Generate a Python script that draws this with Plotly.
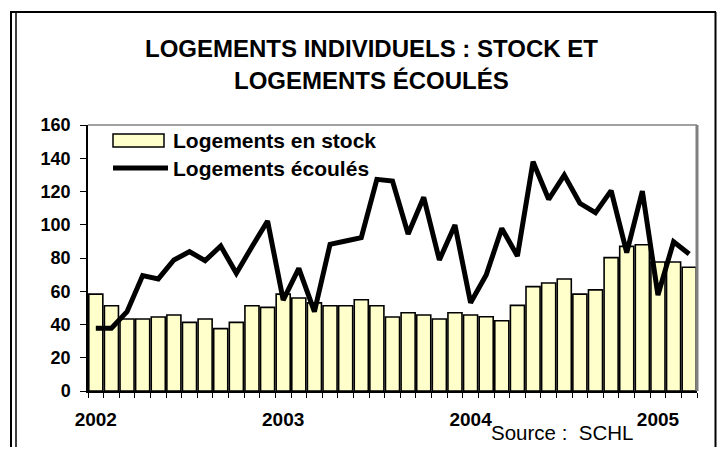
import plotly.graph_objects as go

# ---- data ----
months = [f"{y}-{m:02d}" for y in (2002, 2003, 2004, 2005) for m in range(1, 13)][:39]
stock = [58.3, 51.3, 43.3, 43.3, 44.5, 45.7, 41.3, 43.3, 37.5, 41.3, 51.3, 50.3,
         58.3, 55.9, 53.0, 51.3, 51.3, 54.9, 51.3, 44.5, 47.1, 45.7, 43.3, 47.1,
         45.7, 44.7, 42.3, 51.5, 62.8, 65.0, 67.4, 58.3, 60.8, 80.2, 87.0, 88.0,
         77.6, 77.6, 74.4]
sold = [37.7, 37.7, 47.7, 69.4, 67.4, 78.8, 83.8, 78.4, 87.2, 70.8, 86.8, 102.3,
        54.7, 73.8, 47.7, 88.2, 90.2, 92.2, 127.3, 126.3, 94.4, 116.5, 78.8, 99.8,
        53.1, 69.8, 97.8, 81.2, 137.9, 115.3, 129.9, 112.9, 107.3, 120.5, 83.2, 120.3,
        57.7, 89.8, 82.4]
tick_text = [m[:4] if m.endswith("-01") else "" for m in months]
series_names = ["Logements en stock", "Logements écoulés"]
title_lines = ["LOGEMENTS INDIVIDUELS : STOCK ET", "LOGEMENTS ÉCOULÉS"]
source_text = "Source :\u00a0\u00a0SCHL"

# ---- layout geometry (page pixels; the page body adds an 8px margin all round) ----
OFF = 8
W, H = 725 - 2 * OFF, 455 - 2 * OFF
L, R, T, B = 88, 697, 125, 391          # plot area in page pixels
def px(x):
    return (x - L) / (R - L)
def py(y):
    return (B - y) / (B - T)

FONT = "Arial, Liberation Sans, sans-serif"

fig = go.Figure()
fig.add_trace(go.Bar(x=months, y=stock, name=series_names[0],
                     marker=dict(color="#FFFFCC", line=dict(color="black", width=1.6)),
                     showlegend=False))
fig.add_trace(go.Scatter(x=months, y=sold, name=series_names[1], mode="lines",
                         line=dict(color="black", width=5), showlegend=False))

def pline(x0, y0, x1, y1, color="black", width=1.5):
    return dict(type="line", xref="paper", yref="paper", layer="above",
                x0=px(x0), x1=px(x1), y0=py(y0), y1=py(y1),
                line=dict(color=color, width=width))

shapes = [
    # plot area border (gray top & right)
    dict(type="line", xref="paper", yref="paper", x0=0, x1=1, y0=1, y1=1,
         line=dict(color="#808080", width=1.5)),
    dict(type="line", xref="paper", yref="paper", x0=1, x1=1, y0=0, y1=1,
         line=dict(color="#808080", width=3)),
    # outer frame
    pline(10, 12, 716, 12, width=2),
    pline(11, 12, 11, 455, width=2),
    pline(16, 12, 16, 455, width=1.5),
    pline(715.5, 12, 715.5, 455, width=2),
    # manual legend
    dict(type="rect", xref="paper", yref="paper", x0=px(113), x1=px(164),
         y0=py(147), y1=py(134), fillcolor="#FFFFCC",
         line=dict(color="black", width=1.5)),
    pline(113, 168, 168, 168, width=5),
]

annotations = [
    dict(text=title_lines[0], x=px(371), y=py(48), xref="paper", yref="paper",
         showarrow=False, xanchor="center", yanchor="middle",
         font=dict(family=FONT, size=24, color="black", weight="bold")),
    dict(text=title_lines[1], x=px(371), y=py(80), xref="paper", yref="paper",
         showarrow=False, xanchor="center", yanchor="middle",
         font=dict(family=FONT, size=24, color="black", weight="bold")),
    dict(text=series_names[0], x=px(171), y=py(140), xref="paper", yref="paper",
         showarrow=False, xanchor="left", yanchor="middle",
         font=dict(family=FONT, size=21, color="black", weight="bold")),
    dict(text=series_names[1], x=px(171), y=py(168), xref="paper", yref="paper",
         showarrow=False, xanchor="left", yanchor="middle",
         font=dict(family=FONT, size=21, color="black", weight="bold")),
    dict(text=source_text, x=px(489), y=py(432), xref="paper", yref="paper",
         showarrow=False, xanchor="left", yanchor="middle",
         font=dict(family=FONT, size=20.5, color="black")),
]

fig.update_layout(
    width=W, height=H,
    margin=dict(l=L - OFF, r=(725 - OFF) - R, t=T - OFF, b=(455 - OFF) - B,
                pad=0, autoexpand=False),
    paper_bgcolor="white", plot_bgcolor="white",
    bargap=0.1,
    shapes=shapes, annotations=annotations,
    showlegend=False,
    font=dict(family=FONT, color="black"),
)
fig.update_xaxes(type="category", tickmode="array", tickvals=months, ticktext=tick_text,
                 tickson="boundaries", ticks="outside", ticklen=5, tickcolor="black",
                 tickwidth=1, showline=True, linecolor="black", linewidth=1.5,
                 showgrid=False, tickangle=0, ticklabelstandoff=10,
                 tickfont=dict(family=FONT, size=19, color="black", weight="bold"),
                 range=[-0.5, len(months) - 0.5], zeroline=False)
fig.update_yaxes(range=[0, 160], dtick=20, tick0=0, ticks="outside", ticklen=6,
                 tickcolor="black", tickwidth=1, showline=True, linecolor="black",
                 linewidth=1.5, showgrid=False, zeroline=False, ticklabelstandoff=6,
                 tickfont=dict(family=FONT, size=18, color="black", weight="bold"))

fig.write_html("out.html")
